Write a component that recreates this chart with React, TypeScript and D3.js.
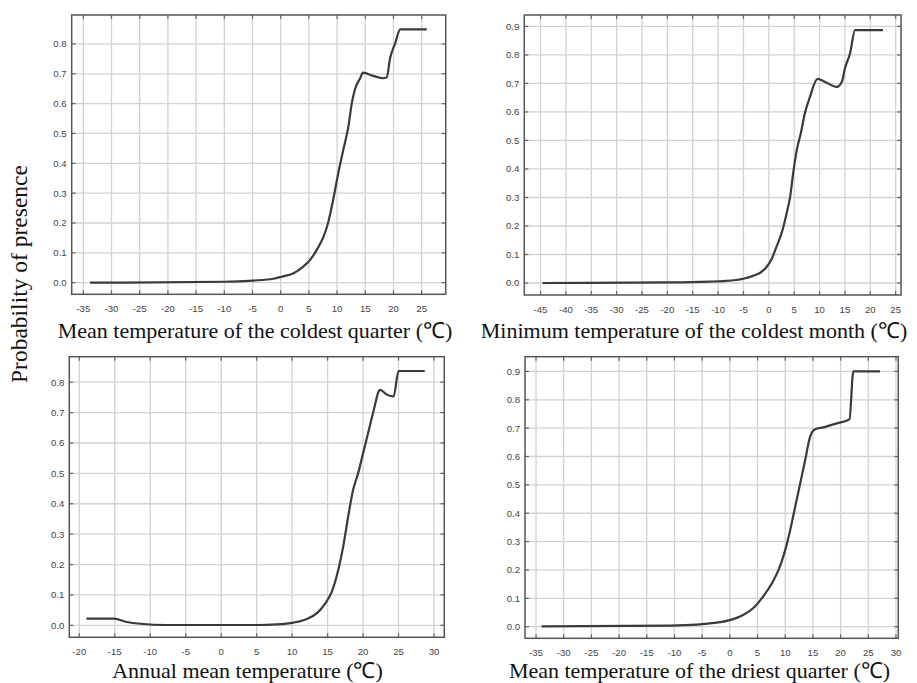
import React from "react";
import * as d3 from "d3";

// ---- Data ----
const coldestQuarterX = [-33.8, -9.9, -4.9, -1.3, 0.2, 2.2, 4.0, 5.2, 6.4, 7.6, 8.4, 9.3, 10.2, 11.1, 12.0, 12.6, 13.2, 14.1, 14.6, 16.4, 18.2, 18.8, 19.4, 20.3, 21.2, 25.9];
const coldestQuarterY = [0.0, 0.003, 0.007, 0.013, 0.02, 0.031, 0.054, 0.076, 0.11, 0.154, 0.2, 0.277, 0.366, 0.445, 0.523, 0.6, 0.65, 0.685, 0.704, 0.693, 0.685, 0.688, 0.752, 0.802, 0.849, 0.849];

const minColdestMonthX = [-44.6, -19.5, -11.6, -9.0, -5.0, -3.1, -1.7, -0.4, 0.6, 1.5, 2.5, 3.5, 4.2, 4.8, 5.5, 6.3, 7.1, 8.1, 9.6, 10.8, 13.4, 14.4, 15.0, 16.0, 17.0, 22.5];
const minColdestMonthY = [0.0, 0.002, 0.005, 0.007, 0.015, 0.025, 0.036, 0.057, 0.086, 0.127, 0.174, 0.244, 0.303, 0.385, 0.466, 0.525, 0.595, 0.653, 0.716, 0.708, 0.688, 0.706, 0.753, 0.805, 0.887, 0.887];

const annualMeanX = [-19.0, -15.1, -13.3, -11.4, -7.7, 5.0, 7.8, 10.2, 12.0, 13.5, 14.6, 15.6, 16.5, 17.2, 17.9, 18.6, 19.3, 20.0, 20.7, 21.4, 22.4, 23.3, 24.3, 25.0, 28.7];
const annualMeanY = [0.022, 0.022, 0.011, 0.005, 0.001, 0.001, 0.003, 0.009, 0.02, 0.04, 0.07, 0.111, 0.182, 0.259, 0.358, 0.446, 0.5, 0.566, 0.632, 0.698, 0.775, 0.76, 0.753, 0.837, 0.837];

const driestQuarterX = [-34.0, -10.8, -6.0, -2.4, 0.0, 2.4, 4.2, 6.0, 7.6, 8.8, 10.0, 10.9, 11.8, 12.7, 13.6, 14.5, 15.4, 16.9, 19.3, 21.6, 22.3, 27.1];
const driestQuarterY = [0.001, 0.004, 0.007, 0.014, 0.023, 0.041, 0.065, 0.106, 0.153, 0.2, 0.27, 0.341, 0.423, 0.505, 0.587, 0.67, 0.696, 0.703, 0.717, 0.731, 0.9, 0.9];

const xTicks1 = [-35, -30, -25, -20, -15, -10, -5, 0, 5, 10, 15, 20, 25];
const xTicks2 = [-45, -40, -35, -30, -25, -20, -15, -10, -5, 0, 5, 10, 15, 20, 25];
const xTicks3 = [-20, -15, -10, -5, 0, 5, 10, 15, 20, 25, 30];
const xTicks4 = [-35, -30, -25, -20, -15, -10, -5, 0, 5, 10, 15, 20, 25, 30];
const yTicks08 = [0, 0.1, 0.2, 0.3, 0.4, 0.5, 0.6, 0.7, 0.8];
const yTicks09 = [0, 0.1, 0.2, 0.3, 0.4, 0.5, 0.6, 0.7, 0.8, 0.9];

const titles = [
  "Mean temperature of the coldest quarter (℃)",
  "Minimum temperature of the coldest month (℃)",
  "Annual mean temperature (℃)",
  "Mean temperature of the driest quarter (℃)",
];
const yAxisTitle = "Probability of presence";

type Panel = {
  xs: number[];
  ys: number[];
  xTicks: number[];
  yTicks: number[];
  xDomain: [number, number];
  yDomain: [number, number];
  rect: { l: number; r: number; t: number; b: number };
  title: string;
  titleX: number;
  titleY: number;
};

const panels: Panel[] = [
  { xs: coldestQuarterX, ys: coldestQuarterY, xTicks: xTicks1, yTicks: yTicks08,
    xDomain: [-37.06, 29.26], yDomain: [-0.039, 0.897],
    rect: { l: 71.7, r: 445.7, t: 15, b: 294.3 }, title: titles[0], titleX: 255, titleY: 338 },
  { xs: minColdestMonthX, ys: minColdestMonthY, xTicks: xTicks2, yTicks: yTicks09,
    xDomain: [-48.2, 26.05], yDomain: [-0.042, 0.94],
    rect: { l: 524.3, r: 901, t: 15, b: 295 }, title: titles[1], titleX: 694, titleY: 338 },
  { xs: annualMeanX, ys: annualMeanY, xTicks: xTicks3, yTicks: yTicks08,
    xDomain: [-21.41, 31.45], yDomain: [-0.0395, 0.884],
    rect: { l: 69.3, r: 444.3, t: 356.7, b: 637.3 }, title: titles[2], titleX: 247.5, titleY: 678 },
  { xs: driestQuarterX, ys: driestQuarterY, xTicks: xTicks4, yTicks: yTicks09,
    xDomain: [-36.99, 30.42], yDomain: [-0.041, 0.952],
    rect: { l: 525, r: 898.3, t: 356.7, b: 638.3 }, title: titles[3], titleX: 699.5, titleY: 678 },
];

const tickFont = "'Liberation Sans Narrow', 'Liberation Sans', Arial, sans-serif";
const serif = "'Liberation Serif', 'Times New Roman', serif";

function PanelView({ p }: { p: Panel }) {
  const { l, r, t, b } = p.rect;
  const x = d3.scaleLinear().domain(p.xDomain).range([l, r]);
  const y = d3.scaleLinear().domain(p.yDomain).range([b, t]);
  const data = p.xs.map((v, i) => [v, p.ys[i]] as [number, number]);
  const line = d3.line<[number, number]>().x((d) => x(d[0])).y((d) => y(d[1])).curve(d3.curveMonotoneX);
  const tl = 4;
  return (
    <g>
      <rect x={l} y={t} width={r - l} height={b - t} fill="#fff" />
      {p.xTicks.map((v) => (
        <line key={"gx" + v} x1={x(v)} x2={x(v)} y1={t} y2={b} stroke="#d2d2d2" strokeWidth={1.3} />
      ))}
      {p.yTicks.map((v) => (
        <line key={"gy" + v} x1={l} x2={r} y1={y(v)} y2={y(v)} stroke="#d2d2d2" strokeWidth={1.3} />
      ))}
      {p.xTicks.map((v) => (
        <g key={"tx" + v}>
          <line x1={x(v)} x2={x(v)} y1={b} y2={b - tl} stroke="#666" strokeWidth={1.2} />
          <line x1={x(v)} x2={x(v)} y1={t} y2={t + tl} stroke="#666" strokeWidth={1.2} />
          <text x={x(v)} y={b + 17.5} textAnchor="middle" fontFamily={tickFont} fontSize={9.6} fill="#444">
            {v < 0 ? "-" + Math.abs(v) : String(v)}
          </text>
        </g>
      ))}
      {p.yTicks.map((v) => (
        <g key={"ty" + v}>
          <line x1={l} x2={l + tl} y1={y(v)} y2={y(v)} stroke="#666" strokeWidth={1.2} />
          <line x1={r} x2={r - tl} y1={y(v)} y2={y(v)} stroke="#666" strokeWidth={1.2} />
          <text x={l - 5} y={y(v)} dy="0.35em" textAnchor="end" fontFamily={tickFont} fontSize={9.6} fill="#444">
            {v.toFixed(1)}
          </text>
        </g>
      ))}
      <rect x={l} y={t} width={r - l} height={b - t} fill="none" stroke="#555" strokeWidth={1.5} />
      <path d={line(data) || ""} fill="none" stroke="#3a3a3a" strokeWidth={2.2} strokeLinejoin="round" />
      <text x={p.titleX} y={p.titleY} textAnchor="middle" fontFamily={serif} fontSize={22} fill="#111">
        {p.title}
      </text>
    </g>
  );
}

export default function App() {
  return (
    <div style={{ position: "absolute", left: 0, top: 0 }}>
      <svg width={917} height={683} style={{ display: "block", background: "#fff" }}>
        <rect x={0} y={0} width={917} height={683} fill="#fff" />
        {panels.map((p, i) => (
          <PanelView key={i} p={p} />
        ))}
        <text
          transform="translate(19,274) rotate(-90)"
          textAnchor="middle"
          dy="0.35em"
          fontFamily={serif}
          fontSize={23.5}
          fill="#111"
        >
          {yAxisTitle}
        </text>
      </svg>
    </div>
  );
}
